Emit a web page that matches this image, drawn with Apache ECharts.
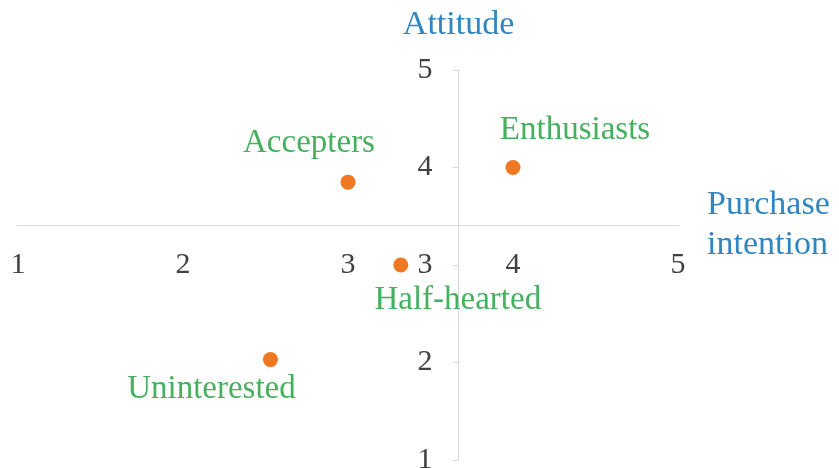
<!DOCTYPE html>
<html>
<head>
<meta charset="utf-8">
<script src="https://cdn.jsdelivr.net/npm/echarts@6/dist/echarts.min.js"></script>
<style>
  * { margin: 0; padding: 0; }
  html, body { background: #fff; }
</style>
</head>
<body>
<div id="main" style="width:839px;height:468px;"></div>
<script>
// segments and their scores
var segments = ['Enthusiasts', 'Accepters', 'Half-hearted', 'Uninterested'];
var purchaseIntention = [4, 3, 3.32, 2.53];
var attitude = [4, 3.85, 3.0, 2.03];
var tickLabels = [1, 2, 3, 4, 5];
// where the two axes cross
var crossX = 3.67;
var crossY = 3.41;

// label offsets next to each dot
var labelOffsets = [[62, -37], [-39, -39], [57, 35], [-59, 30]];

var serif = '"Liberation Serif", "Times New Roman", serif';
var pointData = segments.map(function (name, i) {
    return {
        name: name,
        value: [purchaseIntention[i], attitude[i]],
        label: { offset: labelOffsets[i] }
    };
});

var chart = echarts.init(document.getElementById('main'));
chart.setOption({
    backgroundColor: '#fff',
    animation: false,
    grid: { left: 18, right: 161, top: 70, bottom: 8, outerBoundsMode: 'none', containLabel: false },
    xAxis: {
        type: 'value',
        min: tickLabels[0],
        max: tickLabels[tickLabels.length - 1],
        interval: 1,
        name: 'Purchase\nintention',
        nameLocation: 'end',
        nameGap: 29,
        nameTextStyle: { color: '#2f86c2', fontFamily: serif, fontSize: 34, align: 'left', lineHeight: 40 },
        axisLine: { show: true, lineStyle: { color: '#d9d9d9', width: 1 } },
        axisTick: { show: false },
        axisLabel: { color: '#404040', fontFamily: serif, fontSize: 30, margin: 25 },
        splitLine: { show: false }
    },
    yAxis: {
        type: 'value',
        min: tickLabels[0],
        max: tickLabels[tickLabels.length - 1],
        interval: 1,
        name: 'Attitude',
        nameLocation: 'end',
        nameGap: 28,
        nameTextStyle: { color: '#2f86c2', fontFamily: serif, fontSize: 34 },
        axisLine: { show: true, lineStyle: { color: '#d9d9d9', width: 1 } },
        axisTick: { show: true, length: 6, lineStyle: { color: '#d9d9d9' } },
        axisLabel: { color: '#404040', fontFamily: serif, fontSize: 30, margin: 26 },
        splitLine: { show: false }
    },
    series: [{
        type: 'scatter',
        symbolSize: 15,
        itemStyle: { color: '#f07822', opacity: 1 },
        label: {
            show: true,
            position: 'inside',
            formatter: '{b}',
            color: '#45b05e',
            fontFamily: serif,
            fontSize: 33
        },
        data: pointData
    }]
});

// move the axes so they cross at (crossX, crossY)
var gridBottom = chart.convertToPixel({ yAxisIndex: 0 }, tickLabels[0]);
var gridLeft = chart.convertToPixel({ xAxisIndex: 0 }, tickLabels[0]);
var yPix = chart.convertToPixel({ yAxisIndex: 0 }, crossY);
var xPix = chart.convertToPixel({ xAxisIndex: 0 }, crossX);
chart.setOption({
    xAxis: { offset: -(gridBottom - yPix) },
    yAxis: { offset: -(xPix - gridLeft) }
});
</script>
</body>
</html>
